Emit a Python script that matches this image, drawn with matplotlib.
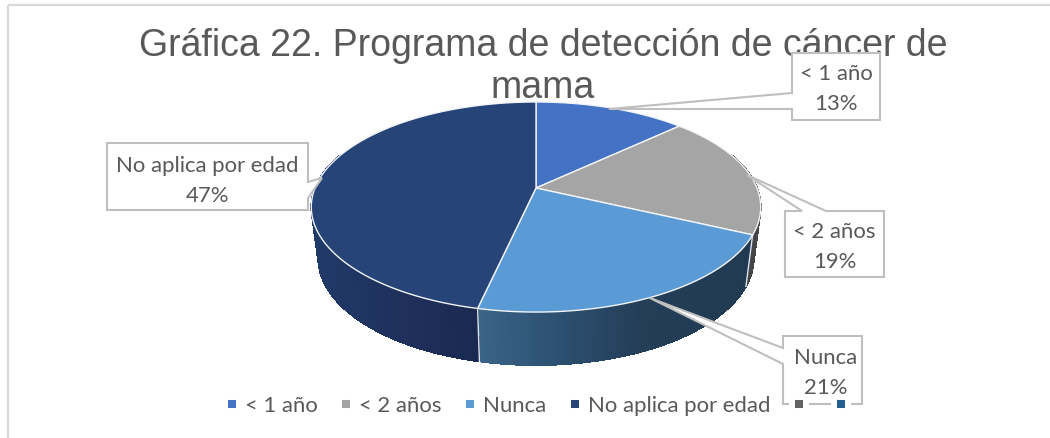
import numpy as np
import matplotlib
matplotlib.use("Agg")
import matplotlib.pyplot as plt
from matplotlib.collections import LineCollection, PolyCollection
from matplotlib.lines import Line2D
from matplotlib.patches import Polygon, Rectangle

# ---- data ----
categories = ["< 1 año", "< 2 años", "Nunca", "No aplica por edad"]
values = [13.0, 19.0, 21.49, 46.51]
title_text = "Gráfica 22. Programa de detección de cáncer de\nmama"

# ---- style ----
top_colors = ["#4472C4", "#A5A5A5", "#5B9BD5", "#264478"]
extra_legend_colors = ["#636363", "#255E91"]
text_color = "#595959"
box_color = "#BFBFBF"
frame_color = "#D9D9D9"
side_gradients = [
    ([536, 680], [(60, 60, 60), (60, 60, 60)]),
    ([700, 765], [(62, 62, 62), (70, 70, 70)]),
    ([478, 500, 560, 640, 760], [(58, 100, 136), (54, 94, 130), (44, 80, 112), (36, 62, 88), (33, 58, 82)]),
    ([311, 400, 478], [(32, 58, 104), (31, 48, 92), (25, 41, 80)]),
]

# ---- layout (pixel space of the figure) ----
W, H = 1050, 438
CX, APEX_Y, RIM_CY = 536.0, 188.0, 207.0
A, B, K = 221.0, 101.6, 0.181
BOT_CY, BOT_SX, BOT_SY = 258.0, 218.0 / 225.0, 107.0 / 105.0


def rim(phi):
    """Perspective projection of a pie rim angle (clockwise from the back)."""
    u, v = np.sin(phi), np.cos(phi)
    w = 1 + K * v
    return CX + A * u / w, APEX_Y - B * v / w


def rim_bottom(phi):
    x, y = rim(phi)
    return CX + (x - CX) * BOT_SX, BOT_CY + (y - RIM_CY) * BOT_SY


fig = plt.figure(figsize=(W / 100, H / 100), dpi=100, facecolor="white")
ax = fig.add_axes([0, 0, 1, 1])
ax.set_xlim(0, W)
ax.set_ylim(H, 0)
ax.axis("off")

ax.add_patch(Rectangle((8, 5), W + 50, H + 50, fill=False, ec=frame_color, lw=1.6, zorder=0))

edges = np.concatenate([[0], np.cumsum(values)]) / np.sum(values) * 2 * np.pi

# side wall
for i in range(len(values)):
    phi = np.linspace(edges[i], edges[i + 1], 220)
    keep = np.cos((phi[:-1] + phi[1:]) / 2) < 0.35
    x0, y0 = rim(phi)
    x1, y1 = rim_bottom(phi)
    quads, cols, outline = [], [], []
    xp, cp = side_gradients[i]
    cp = np.array(cp) / 255
    for j in np.nonzero(keep)[0]:
        quads.append([(x0[j], y0[j]), (x0[j + 1], y0[j + 1]), (x1[j + 1], y1[j + 1]), (x1[j], y1[j])])
        outline.append([(x1[j], y1[j]), (x1[j + 1], y1[j + 1])])
        cols.append([np.interp(x0[j], xp, cp[:, c]) for c in range(3)])
    if quads:
        ax.add_collection(PolyCollection(quads, facecolors=cols, edgecolors=cols, linewidths=0.6,
                                         antialiaseds=False, zorder=2))
        ax.add_collection(LineCollection(outline, colors=cols, linewidths=0.7, zorder=2))
    # white seam where two slices meet on the wall
    ex0, ey0 = rim(edges[i + 1])
    ex1, ey1 = rim_bottom(edges[i + 1])
    if np.cos(edges[i + 1]) < 0:
        ax.plot([ex0, ex1], [ey0, ey1], color="#DDE4EC", lw=1.0, zorder=3)

# top face
for i in range(len(values)):
    phi = np.linspace(edges[i], edges[i + 1], 200)
    x, y = rim(phi)
    pts = np.column_stack([np.r_[CX, x], np.r_[APEX_Y, y]])
    ax.add_patch(Polygon(pts, closed=True, fc=top_colors[i], ec="#F2F4F8", lw=1.0, joinstyle="round", zorder=4))

# callout boxes
boxes = [
    dict(poly=[(792, 53), (880, 53), (880, 120), (792, 120), (792, 109), (609, 109), (792, 93)], c=(836, 89)),
    dict(poly=[(785, 211), (802, 211), (747, 175), (826, 211), (884, 211), (884, 277), (785, 277)], c=(834.5, 247)),
    dict(poly=[(783, 336), (862, 336), (862, 404), (783, 404), (783, 364), (650, 298), (783, 348)], c=(826, 373)),
    dict(poly=[(107, 143), (308, 143), (308, 182), (322, 178), (308, 198), (308, 210), (107, 210)], c=(207.5, 181)),
]
for i, b in enumerate(boxes):
    ax.add_patch(Polygon(b["poly"], closed=True, fc="white", ec=box_color, lw=1.5, joinstyle="miter", zorder=6))
    ax.text(b["c"][0], b["c"][1], f"{categories[i]}\n{round(values[i])}%", ha="center", va="center",
            color=text_color, fontsize=15.9, family="Lato", linespacing=1.6, zorder=7)

ax.set_title(title_text, x=543 / W, y=1 - 36 / H, va="top", ha="center", color=text_color,
             fontsize=27, family="Liberation Sans", linespacing=1.22, zorder=5)

handles = [Line2D([], [], ls="", marker="s", ms=10, mew=4.3, mec="white", mfc=c)
           for c in top_colors + extra_legend_colors]
labels = categories + ["", ""]
leg = ax.legend(handles, labels, loc="center left", bbox_to_anchor=(226 / W, 1 - 406 / H), ncols=6,
                frameon=False, prop={"family": "Lato", "size": 15.9}, labelcolor=text_color,
                handlelength=0.55, handletextpad=0.29, columnspacing=1.04, borderpad=0, borderaxespad=0)
leg.set_zorder(8)

fig.savefig("out.png", dpi=100, facecolor="white")
